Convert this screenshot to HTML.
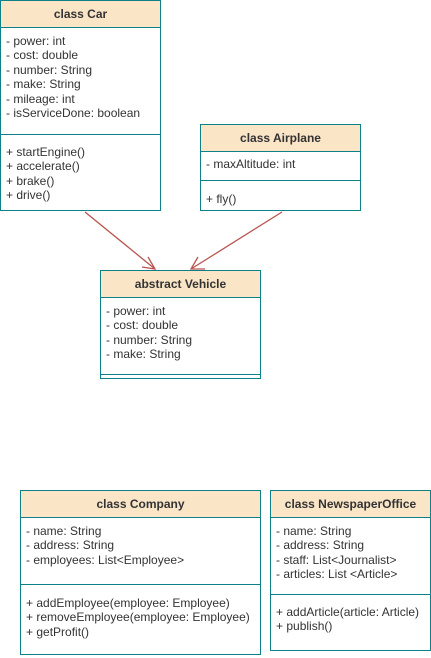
<!DOCTYPE html>
<html><head><style>
body{margin:0;width:431px;height:658px;background:#fff;position:relative;overflow:hidden;font-family:"Liberation Sans",Arial,sans-serif;font-size:12px;color:#333;}
.b{position:absolute;border:1px solid #0e8088;box-sizing:border-box;background:#fff;}
.h{position:absolute;left:0;right:0;top:0;background:#fae5c7;border-bottom:1px solid #0e8088;font-weight:bold;text-align:center;font-size:12px;}
.d{position:absolute;left:0;right:0;border-top:1px solid #0e8088;}
.t{position:absolute;left:5px;line-height:14.4px;white-space:nowrap;}
svg{position:absolute;left:0;top:0;}
</style></head><body>
<svg width="431" height="658">
<g stroke="#b85450" stroke-width="1.3" fill="none">
<line x1="85" y1="212" x2="155" y2="269"/>
<polyline points="148,257 155,269 142,267"/>
<line x1="282" y1="212" x2="191" y2="269"/>
<polyline points="198,257 191,269 205,269"/>
</g></svg>

<div class="b" style="left:0;top:0;width:161px;height:211px">
<div class="h" style="height:26px;line-height:26px">class Car</div>
<div class="t" style="top:33px">- power: int<br>- cost: double<br>- number: String<br>- make: String<br>- mileage: int<br>- isServiceDone: boolean</div>
<div class="d" style="top:133px"></div>
<div class="t" style="top:144px">+ startEngine()<br>+ accelerate()<br>+ brake()<br>+ drive()</div>
</div>

<div class="b" style="left:200px;top:124px;width:161px;height:87px">
<div class="h" style="height:26px;line-height:26px">class Airplane</div>
<div class="t" style="top:32px">- maxAltitude: int</div>
<div class="d" style="top:55px"></div>
<div class="t" style="top:67px">+ fly()</div>
</div>

<div class="b" style="left:100px;top:270px;width:161px;height:109px">
<div class="h" style="height:26px;line-height:26px">abstract Vehicle</div>
<div class="t" style="top:33px">- power: int<br>- cost: double<br>- number: String<br>- make: String</div>
<div class="d" style="top:103px"></div>
</div>

<div class="b" style="left:20px;top:490px;width:241px;height:165px">
<div class="h" style="height:26px;line-height:26px">class Company</div>
<div class="t" style="top:33px">- name: String<br>- address: String<br>- employees: List&lt;Employee&gt;</div>
<div class="d" style="top:93px"></div>
<div class="t" style="top:105px">+ addEmployee(employee: Employee)<br>+ removeEmployee(employee: Employee)<br>+ getProfit()</div>
</div>

<div class="b" style="left:270px;top:490px;width:161px;height:161px">
<div class="h" style="height:26px;line-height:26px">class NewspaperOffice</div>
<div class="t" style="top:33px">- name: String<br>- address: String<br>- staff: List&lt;Journalist&gt;<br>- articles: List &lt;Article&gt;</div>
<div class="d" style="top:103px"></div>
<div class="t" style="top:114px">+ addArticle(article: Article)<br>+ publish()</div>
</div>
</body></html>
